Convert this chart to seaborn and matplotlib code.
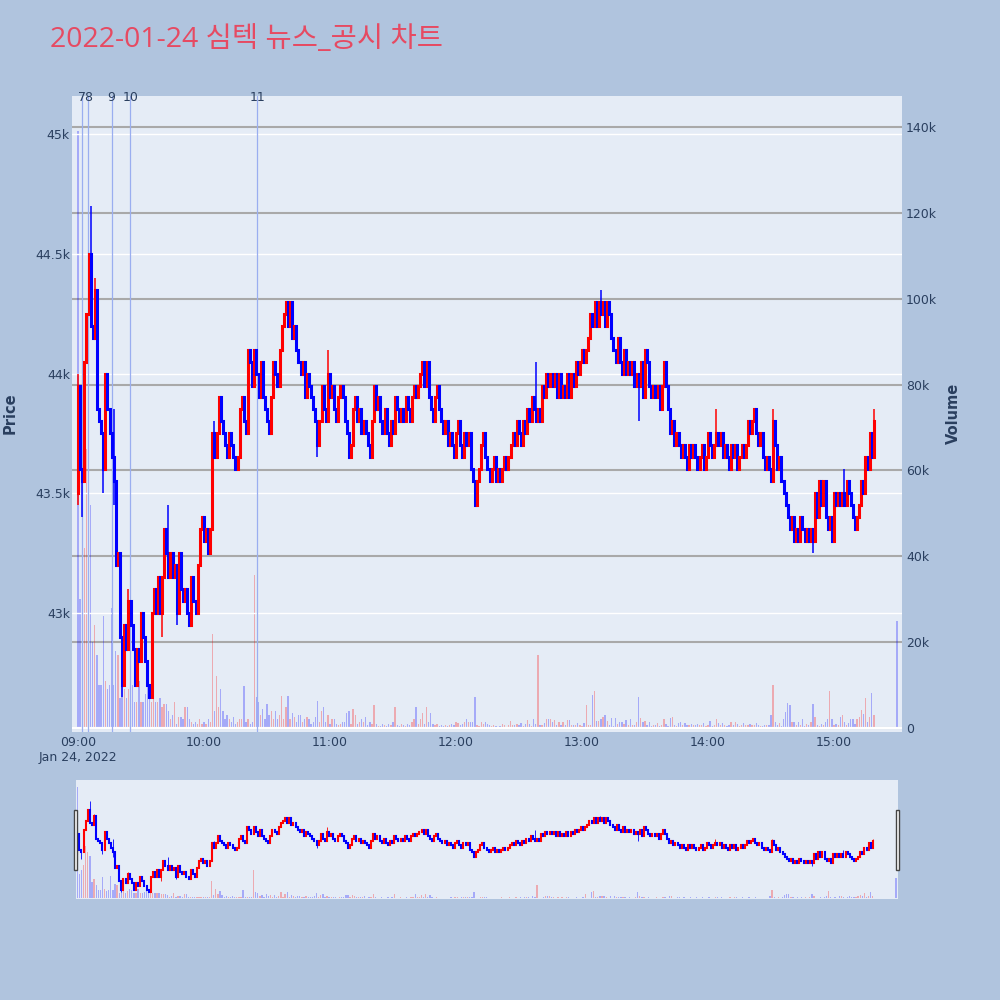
import numpy as np
import pandas as pd
import matplotlib
matplotlib.use("Agg")
import matplotlib.pyplot as plt
import matplotlib.ticker as ticker
from matplotlib.patches import Rectangle
import seaborn as sns

sns.set_theme(style="white")
plt.rcParams['font.family'] = ['DejaVu Sans', 'Noto Sans CJK KR']

TITLE = "2022-01-24 심텍 뉴스_공시 차트"
DATE_LABEL = "Jan 24, 2022"
hour_labels = ["09:00", "10:00", "11:00", "12:00", "13:00", "14:00", "15:00"]

# 1-minute closes from 09:00 (minute 0) to 15:19 (minute 379)
prev_day_close = 44100
open_first = 43500
closes = [
    43950, 43600, 43550, 44050, 44250, 44500, 44200, 44150, 44350, 43850, 43800, 43750, 43600, 44000, 43850, 43750, 43650, 43550, 43200, 43250,
    42900, 42700, 42950, 42850, 43050, 42950, 42850, 42700, 42850, 42800, 43000, 42900, 42800, 42700, 42650, 43000, 43100, 43000, 43150, 43000,
    43150, 43350, 43250, 43150, 43250, 43150, 43200, 43000, 43250, 43100, 43050, 43100, 43000, 42950, 43150, 43050, 43000, 43200, 43350, 43400,
    43300, 43350, 43250, 43350, 43750, 43650, 43750, 43900, 43800, 43750, 43700, 43650, 43750, 43700, 43650, 43600, 43650, 43850, 43900, 43800,
    43750, 44100, 44050, 43950, 44100, 44000, 43900, 44050, 43900, 43850, 43800, 43750, 43900, 44050, 44000, 43950, 44100, 44200, 44250, 44300,
    44200, 44300, 44150, 44200, 44100, 44050, 44000, 44050, 43900, 44000, 43950, 43900, 43850, 43800, 43700, 43800, 43950, 43850, 43800, 44000,
    43900, 43950, 43850, 43800, 43900, 43950, 43900, 43800, 43750, 43650, 43700, 43850, 43900, 43800, 43850, 43750, 43800, 43750, 43700, 43650,
    43800, 43950, 43850, 43900, 43800, 43750, 43850, 43750, 43700, 43800, 43750, 43900, 43850, 43800, 43850, 43800, 43900, 43850, 43800, 43900,
    43950, 43900, 43950, 44000, 44050, 43950, 44050, 43900, 43850, 43800, 43900, 43950, 43850, 43800, 43750, 43800, 43700, 43750, 43700, 43650,
    43750, 43800, 43700, 43650, 43750, 43700, 43750, 43600, 43550, 43450, 43550, 43600, 43700, 43750, 43650, 43600, 43550, 43600, 43650, 43550,
    43600, 43550, 43600, 43650, 43600, 43650, 43700, 43750, 43700, 43800, 43750, 43700, 43800, 43750, 43850, 43800, 43900, 43850, 43800, 43850,
    43800, 43950, 43900, 44000, 43950, 44000, 43950, 44000, 43900, 44000, 43900, 43950, 43900, 44000, 43900, 44000, 43950, 44050, 44000, 44050,
    44100, 44050, 44100, 44150, 44250, 44200, 44300, 44200, 44300, 44250, 44300, 44200, 44300, 44250, 44150, 44100, 44050, 44150, 44050, 44000,
    44100, 44000, 44050, 44000, 44050, 43950, 44000, 43950, 44050, 43900, 44100, 44050, 43950, 43900, 43950, 43900, 43950, 43850, 43950, 44050,
    43950, 43850, 43750, 43800, 43700, 43750, 43700, 43650, 43700, 43650, 43600, 43700, 43650, 43700, 43650, 43600, 43650, 43700, 43600, 43650,
    43750, 43700, 43650, 43700, 43750, 43700, 43750, 43650, 43700, 43650, 43600, 43700, 43650, 43700, 43600, 43650, 43700, 43650, 43700, 43800,
    43750, 43800, 43850, 43750, 43700, 43750, 43650, 43600, 43650, 43600, 43550, 43800, 43700, 43600, 43650, 43550, 43500, 43450, 43400, 43350,
    43400, 43300, 43350, 43300, 43400, 43350, 43300, 43350, 43300, 43350, 43300, 43500, 43400, 43550, 43450, 43550, 43400, 43350, 43400, 43300,
    43500, 43450, 43500, 43450, 43500, 43450, 43550, 43500, 43450, 43400, 43350, 43400, 43450, 43550, 43500, 43650, 43600, 43750, 43650, 43800,
]
# wicks that reach beyond the body
wick_high = {0: 44000, 1: 43850, 6: 44700, 8: 44400, 17: 43850, 24: 43100, 43: 43450, 65: 43800,
             119: 44100, 218: 44050, 249: 44350, 304: 43850, 331: 43850, 365: 43600, 379: 43850}
wick_low = {0: 43450, 2: 43400, 12: 43500, 17: 43450, 21: 42650, 40: 42900, 47: 42950, 114: 43650,
            189: 43450, 267: 43800, 330: 43550, 343: 43300, 350: 43250, 359: 43300}

# volume per minute, thousands of shares
volumes_k = [
    139, 30, 35, 42, 65, 58, 52, 20, 24, 17, 10, 10, 26, 11, 9, 10, 28, 10, 18, 17,
    7, 12, 9, 7, 9, 11, 10, 6, 6, 11, 6, 6, 8, 10, 10, 6, 7, 6, 6, 7,
    5, 5.5, 5.5, 4, 2, 3, 6, 1, 2.5, 2.5, 2, 5, 5, 2, 1.5, 1, 1.5, 1, 2, 1,
    1.5, 1, 2, 1.5, 22, 4, 12, 5, 9, 4, 2, 3, 2, 1.5, 2.5, 1, 1.5, 2, 2, 9.7,
    1.5, 2, 1, 1.5, 35.6, 7.3, 6, 3, 4.5, 2, 5.5, 3, 4, 2, 4, 2, 3, 7.5, 2, 5,
    7.5, 2, 3.5, 2.5, 1.5, 3, 3, 1.5, 2, 2.5, 2, 1, 1.5, 2.5, 6.2, 1.5, 4, 5, 1.5, 3,
    1, 2, 2, 1, 0.8, 1, 1.5, 1.5, 3.5, 4, 1, 4.5, 3, 1, 1.5, 2, 1.5, 2.5, 0.8, 1.5,
    1, 5.4, 1, 0.5, 0.5, 1, 0.8, 0.5, 1, 0.8, 1.5, 5, 0.8, 0.5, 1, 0.8, 0.5, 1, 0.6, 1.5,
    2, 5, 1, 2, 3.5, 1, 5, 1.5, 3.5, 1, 0.8, 1, 0.5, 0.8, 0.5, 0.8, 0.5, 0.8, 1, 0.8,
    1.5, 1.2, 0.8, 1, 1.5, 2, 1.5, 1.5, 1.5, 7.3, 0.8, 0.5, 1.5, 1, 1.5, 1, 0.8, 0.5, 0.6, 0.5,
    0.3, 0.5, 1, 0.7, 0.3, 0.7, 1.7, 0.8, 0.8, 1, 0.6, 1.1, 0.5, 1, 1.9, 1, 0.5, 2.2, 1, 17,
    0.7, 0.6, 1.2, 2.2, 2.2, 2.2, 1.5, 1.8, 0.8, 1.5, 0.6, 1.5, 0.6, 1.9, 1.8, 0.6, 0.6, 0.8, 1.1, 0.6,
    0.5, 1.2, 5.4, 0.6, 0.6, 7.7, 8.7, 1.7, 1.7, 2.2, 2.6, 3.0, 1.7, 0.8, 2.4, 0.5, 2.4, 1.0, 1.5, 1.3,
    1.0, 1.8, 0.6, 2.0, 0.6, 0.8, 1.5, 7.2, 2.4, 1.5, 1.7, 0.8, 1.3, 0.5, 0.6, 0.8, 1.2, 0.4, 0.6, 2.0,
    1.0, 0.5, 2.3, 2.5, 0.6, 0.5, 1.2, 1.5, 0.6, 1.1, 0.6, 0.6, 1.0, 0.8, 0.6, 1.0, 0.6, 0.8, 1.2, 0.5,
    0.8, 1.6, 0.5, 0.8, 2.0, 1.1, 0.8, 1.2, 0.6, 0.5, 0.8, 1.3, 0.6, 1.5, 1.0, 0.5, 0.8, 1.2, 0.6, 0.6,
    1.0, 0.6, 0.8, 1.2, 0.6, 0.5, 0.5, 0.8, 0.6, 0.6, 3.0, 10, 1.3, 0.6, 1.2, 0.5, 2.0, 3.8, 5.8, 5.4,
    1.5, 1.5, 0.6, 1.3, 0.8, 2.0, 0.5, 1.0, 0.6, 1.5, 5.6, 2.5, 0.6, 0.5, 1.0, 0.6, 1.5, 2.2, 8.6, 2.0,
    0.8, 1.0, 0.6, 2.6, 3.0, 1.5, 0.6, 1.2, 2.2, 2.0, 1.0, 2.0, 2.6, 4.2, 3.2, 7.0, 1.5, 2.5, 8.2, 3.0,
]
# closing auction at 15:30 (minute 390)
close_minute, close_price, close_vol_k = 390, 43750, 25

news_labels = ["7", "8", "9", "10", "11"]
news_times = ["09:01:48", "09:04:40", "09:16:00", "09:24:50", "10:25:25"]

# ---- build table ----
n = len(closes)
minutes = list(range(n)) + [close_minute]
c = np.array(closes + [close_price], dtype=float)
o = np.array([open_first] + closes[:-1] + [close_price], dtype=float)
prev = np.array([prev_day_close] + closes, dtype=float)
hi = np.maximum(o, c)
lo = np.minimum(o, c)
for k, v in wick_high.items():
    hi[k] = max(hi[k], v)
for k, v in wick_low.items():
    lo[k] = min(lo[k], v)
df = pd.DataFrame({"minute": minutes, "open": o, "close": c, "high": hi, "low": lo,
                   "volume": np.array(volumes_k + [close_vol_k]) * 1000})
df["dir"] = np.where(df["close"] > df["open"], "up", "down")
df["vdir"] = np.where(df["close"] > prev, "up", "down")
col = {"up": "#ff0000", "down": "#0000ff"}


def to_min(t):
    h, m, s = map(int, t.split(":"))
    return (h - 9) * 60 + m + s / 60


news_min = [to_min(t) for t in news_times]

BG = "#B0C4DE"
PLOT_BG = "#E5ECF6"
TXT = "#2a3f5f"
XLIM = (-2.86, 392.4)
PLIM = (42503, 45159)
VLIM = (-930, 147220)

fig = plt.figure(figsize=(10, 10), dpi=100, facecolor=BG)


def draw_candles(ax, wick_lw, body_lw):
    colors = [col[d] for d in df["dir"]]
    ax.vlines(df["minute"], df["low"], df["high"], colors=colors, lw=wick_lw, zorder=3)
    bodies = ax.vlines(df["minute"], df[["open", "close"]].min(axis=1), df[["open", "close"]].max(axis=1),
                       colors=colors, lw=body_lw, zorder=4)
    bodies.set_capstyle("projecting")


def draw_volume(ax, alpha):
    sns.histplot(data=df, x="minute", weights="volume", hue="vdir", hue_order=["up", "down"],
                 palette=col, discrete=True, shrink=0.62, alpha=alpha, linewidth=0,
                 legend=False, ax=ax, multiple="layer")


# ---- main chart ----
axv = fig.add_axes([0.072, 0.268, 0.830, 0.636])
axv.set_facecolor(PLOT_BG)
draw_volume(axv, 0.28)
axv.set_xlim(*XLIM)
axv.set_ylim(*VLIM)
axv.yaxis.set_major_locator(ticker.MultipleLocator(20000))
axv.yaxis.set_major_formatter(ticker.FuncFormatter(lambda v, p: "0" if v == 0 else f"{v/1000:g}k"))
axv.grid(axis="y", color="#a9a9a9", lw=1.5, zorder=0)
axv.axhline(0, color="white", lw=1.6, zorder=1)
axv.set_axisbelow(True)
axv.set_xlabel("")
axv.set_ylabel("")

axp = axv.twinx()
axp.patch.set_visible(False)
axv.yaxis.tick_right()
axp.yaxis.tick_left()
axp.set_ylim(*PLIM)
axp.yaxis.set_major_locator(ticker.FixedLocator([43000, 43500, 44000, 44500, 45000]))
axp.yaxis.set_major_formatter(ticker.FuncFormatter(lambda v, p: f"{v/1000:g}k"))
axp.grid(axis="y", color="white", lw=1.0, zorder=0)
draw_candles(axp, 1.1, 2.2)
for lab, m in zip(news_labels, news_min):
    axp.axvline(m, color="#9aaef0", lw=0.9, zorder=2)
    axp.text(m, 0.998, lab, transform=axp.get_xaxis_transform(), ha="center", va="center",
             fontsize=9, color=TXT, zorder=6)

for a in (axv, axp):
    for s in a.spines.values():
        s.set_visible(False)
axv.tick_params(axis="y", length=0, pad=3, labelsize=9, labelcolor=TXT,
                labelleft=False, labelright=True)
axp.tick_params(axis="y", length=0, pad=1.5, labelsize=9, labelcolor=TXT,
                labelleft=True, labelright=False)

xt = [60 * i for i in range(len(hour_labels))]
axv.set_xticks(xt)
xlabels = [hour_labels[0] + "\n" + DATE_LABEL] + hour_labels[1:]
axv.set_xticklabels(xlabels)
for t in axv.get_xticklabels():
    t.set_multialignment("center")
axv.tick_params(axis="x", length=0, pad=3, labelsize=9, labelcolor=TXT)

fig.text(0.010, 0.587, "Price", rotation=90, ha="center", va="center",
         fontsize=10.5, fontweight="bold", color=TXT)
fig.text(0.953, 0.587, "Volume", rotation=90, ha="center", va="center",
         fontsize=10.5, fontweight="bold", color=TXT)
fig.text(0.050, 0.960, TITLE, ha="left", va="center", fontsize=20.5, color="#E64A62",
         family=["Open Sans", "Noto Sans CJK KR"])

# ---- range slider ----
sv = fig.add_axes([0.076, 0.101, 0.822, 0.119])
sv.set_facecolor(PLOT_BG)
draw_volume(sv, 0.28)
sv.set_xlim(-0.6, 391)
sv.set_ylim(*VLIM)
sp = sv.twinx()
sp.patch.set_visible(False)
sp.set_ylim(*PLIM)
draw_candles(sp, 0.6, 1.5)
for a in (sv, sp):
    a.set_xticks([])
    a.set_yticks([])
    a.set_xlabel("")
    a.set_ylabel("")
    for s in a.spines.values():
        s.set_visible(False)

for x0 in (0.0738, 0.8955):
    fig.add_artist(Rectangle((x0, 0.130), 0.0035, 0.060, transform=fig.transFigure,
                             facecolor="white", edgecolor="#444444", lw=1.0, zorder=10))

fig.savefig("out.png", dpi=100, facecolor=BG)
